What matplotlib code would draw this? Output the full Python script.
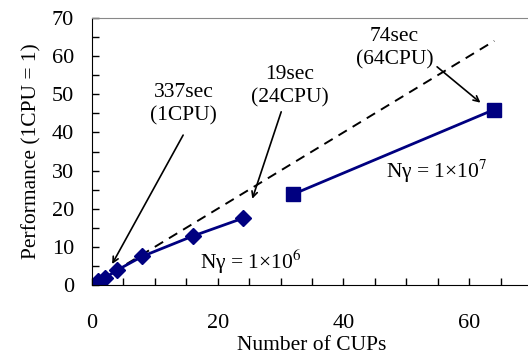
import matplotlib
matplotlib.use('Agg')
import matplotlib.pyplot as plt
from matplotlib.ticker import MultipleLocator

plt.rcParams['font.family'] = ['Liberation Serif', 'DejaVu Serif']
plt.rcParams['mathtext.fontset'] = 'stix'

# Ngamma = 1e6 run
cpu_1e6 = [1, 2, 4, 8, 16, 24]
perf_1e6 = [1.0, 1.8, 3.9, 7.5, 12.8, 17.5]
# Ngamma = 1e7 run
cpu_1e7 = [32, 64]
perf_1e7 = [23.8, 46.0]
# ideal scaling
ideal_x = [1, 64]
ideal_y = [1, 64]

navy = '#000080'
fs = 15.5

fig = plt.figure(figsize=(5.28, 3.54), dpi=100)
ax = fig.add_axes([92 / 528, 1 - 285 / 354, 440 / 528, 267 / 354])

ax.plot(ideal_x, ideal_y, color='black', linestyle=(0, (5, 3.5)), linewidth=1.4)
ax.plot(cpu_1e6, perf_1e6, color=navy, marker='D', markersize=8, linewidth=2)
ax.plot(cpu_1e7, perf_1e7, color=navy, marker='s', markersize=10.5, linewidth=2)

ax.set_xlim(0, 70)
ax.set_ylim(0, 70)
ax.xaxis.set_major_locator(MultipleLocator(20))
ax.xaxis.set_minor_locator(MultipleLocator(5))
ax.yaxis.set_major_locator(MultipleLocator(10))
ax.yaxis.set_minor_locator(MultipleLocator(5))
ax.tick_params(which='both', direction='in', top=False, right=False,
               labelsize=16, length=5, width=1)
ax.tick_params(axis='x', pad=21)
ax.tick_params(axis='y', pad=13)
ax.spines['top'].set_color('#888888')
ax.spines['right'].set_visible(False)

ax.set_xlabel('Number of CUPs', fontsize=fs, labelpad=2)
ax.set_ylabel('Performance (1CPU = 1)', fontsize=fs, labelpad=7)

arrow = dict(arrowstyle='->', color='black', lw=1.2, shrinkA=0, shrinkB=0)
ax.annotate('', xy=(3.2, 5.5), xytext=(14.5, 39.3), arrowprops=arrow)
ax.annotate('', xy=(25.5, 22.6), xytext=(30.1, 45.4), arrowprops=arrow)
ax.annotate('', xy=(61.8, 47.8), xytext=(54.9, 57.2), arrowprops=arrow)

ax.text(14.6, 47.3, '337sec\n(1CPU)', ha='center', va='center', fontsize=fs,
        linespacing=1.3)
ax.text(31.5, 52.0, '19sec\n(24CPU)', ha='center', va='center', fontsize=fs,
        linespacing=1.3)
ax.text(48.1, 62.0, '74sec\n(64CPU)', ha='center', va='center', fontsize=fs,
        linespacing=1.3)

ax.text(17.2, 6.0, 'Nγ = 1×10$^{6}$', fontsize=fs, va='center')
ax.text(46.8, 29.7, 'Nγ = 1×10$^{7}$', fontsize=fs, va='center')

fig.savefig('out.png', dpi=100)
